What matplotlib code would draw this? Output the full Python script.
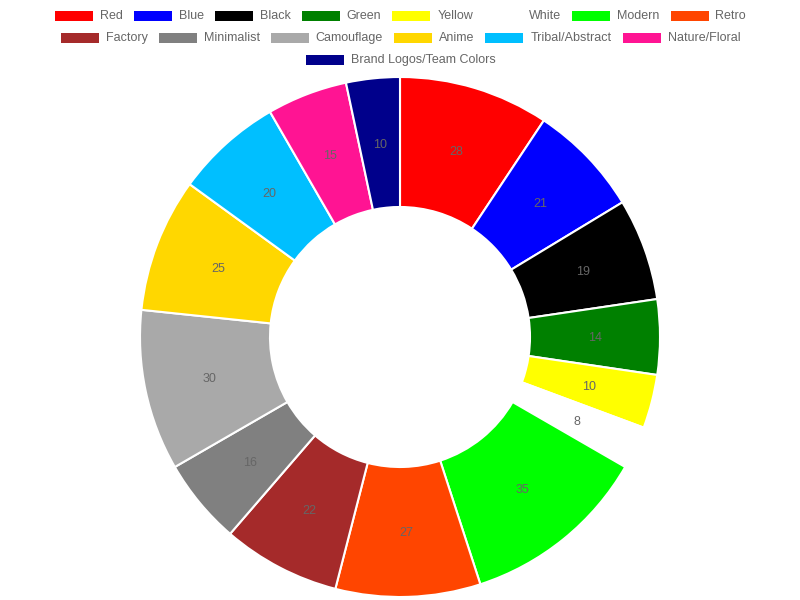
import matplotlib
matplotlib.use("Agg")
import matplotlib.pyplot as plt
import numpy as np
from matplotlib.patches import Rectangle

plt.rcParams['font.family'] = ['Liberation Sans', 'DejaVu Sans']

# Chart data
labels = ['Red', 'Blue', 'Black', 'Green', 'Yellow', 'White', 'Modern', 'Retro',
          'Factory', 'Minimalist', 'Camouflage', 'Anime', 'Tribal/Abstract',
          'Nature/Floral', 'Brand Logos/Team Colors']
values = [28, 21, 19, 14, 10, 8, 35, 27, 22, 16, 30, 25, 20, 15, 10]
colors = ['#ff0000', '#0000ff', '#000000', '#008000', '#ffff00', '#ffffff',
          '#00ff00', '#ff4500', '#a52a2a', '#808080', '#a9a9a9', '#ffd700',
          '#00bfff', '#ff1493', '#00008b']

W, H = 800, 600
fig = plt.figure(figsize=(8, 6), dpi=100)

# Doughnut: centre (400, 337) px, radius 260 px
cx, cy, r = 400, 337, 260
ax = fig.add_axes([(cx - r) / W, (H - cy - r) / H, 2 * r / W, 2 * r / H])
wedges, _ = ax.pie(values, colors=colors, startangle=90, counterclock=False,
                   radius=1.0,
                   wedgeprops=dict(width=0.5, edgecolor='white', linewidth=1.5))
ax.set_xlim(-1, 1)
ax.set_ylim(-1, 1)
ax.set_aspect('equal')
ax.axis('off')

# value labels at the middle of each ring segment
for w, v in zip(wedges, values):
    ang = np.deg2rad((w.theta1 + w.theta2) / 2)
    ax.text(0.75 * np.cos(ang), 0.75 * np.sin(ang), str(v), ha='center',
            va='center_baseline', fontsize=9, color='#666666')

# Legend drawn in pixel coordinates, Chart.js style
lax = fig.add_axes([0, 0, 1, 1])
lax.set_xlim(0, W)
lax.set_ylim(H, 0)
lax.axis('off')

renderer = fig.canvas.get_renderer()
widths = []
for lab in labels:
    t = lax.text(0, 0, lab, fontsize=9)
    widths.append(t.get_window_extent(renderer).width)
    t.remove()

box_w, gap, pad = 40, 6, 10
item_w = [box_w + gap + tw for tw in widths]
rows = [[]]
cur = 0
for i, iw in enumerate(item_w):
    if rows[-1] and cur + iw + pad > 780:
        rows.append([])
        cur = 0
    rows[-1].append(i)
    cur += iw + pad

for ri, row in enumerate(rows):
    total = sum(item_w[i] for i in row) + pad * (len(row) - 1)
    x = (W - total) / 2
    y = 16 + 22 * ri
    for i in row:
        lax.add_patch(Rectangle((x + 1, y - 5), box_w - 2, 10,
                                facecolor=colors[i], edgecolor='none'))
        lax.text(x + box_w + gap, y, labels[i], fontsize=9, color='#666666',
                 ha='left', va='center')
        x += item_w[i] + pad

fig.savefig('out.png', dpi=100)
